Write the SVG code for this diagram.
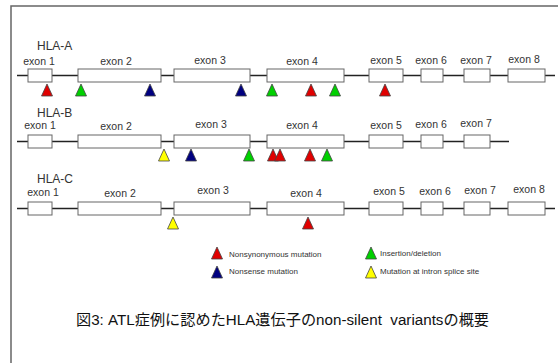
<svg xmlns="http://www.w3.org/2000/svg" xmlns:xlink="http://www.w3.org/1999/xlink" width="558" height="363" viewBox="0 0 558 363">
<style>
.frame{fill:none;stroke:#666;stroke-width:1.5}
.bb{stroke:#222;stroke-width:1.6;fill:none}
.ex{fill:#fff;stroke:#666;stroke-width:1}
.lbl{font-family:"Liberation Sans",Arial,sans-serif;font-size:10.5px;fill:#333;text-anchor:middle}
.gene{font-family:"Liberation Sans",Arial,sans-serif;font-size:12px;fill:#333}
.leg{font-family:"Liberation Sans",Arial,sans-serif;font-size:8px;fill:#333}
.cap{font-family:"Liberation Sans","Noto Sans CJK JP",sans-serif;font-size:15.2px;fill:#111}
.r{fill:#e00000}.g{fill:#00d000}.n{fill:#000080}.y{fill:#ffff00}
</style>
<defs>
<path id="tri" d="M0,0 L5.5,12 L-5.5,12 Z" stroke="#444" stroke-width="0.8"/>
</defs>
<rect width="558" height="363" fill="#fff"/>
<path class="frame" d="M11,363 V6 H558"/>
<g id="connectors">
<line class="bb" x1="17" y1="75.5" x2="555" y2="75.5"/>
<line class="bb" x1="17" y1="141.5" x2="509" y2="141.5"/>
<line class="bb" x1="17" y1="208.5" x2="555" y2="208.5"/>
</g>
<g id="hla-a">
<text class="gene" x="37" y="50">HLA-A</text>
<rect class="ex" x="28" y="69" width="24" height="13"/>
<rect class="ex" x="78" y="69" width="83" height="13"/>
<rect class="ex" x="174" y="69" width="76" height="13"/>
<rect class="ex" x="267" y="69" width="77" height="13"/>
<rect class="ex" x="369" y="69" width="34" height="13"/>
<rect class="ex" x="421" y="69" width="22" height="13"/>
<rect class="ex" x="464" y="69" width="26" height="13"/>
<rect class="ex" x="508" y="69" width="37" height="13"/>
<text class="lbl" x="39" y="65">exon 1</text>
<text class="lbl" x="116" y="65">exon 2</text>
<text class="lbl" x="210" y="64">exon 3</text>
<text class="lbl" x="302" y="65">exon 4</text>
<text class="lbl" x="386" y="64">exon 5</text>
<text class="lbl" x="431" y="64">exon 6</text>
<text class="lbl" x="476" y="64">exon 7</text>
<text class="lbl" x="524" y="63">exon 8</text>
<use href="#tri" class="r" x="47" y="84"/>
<use href="#tri" class="g" x="81" y="84"/>
<use href="#tri" class="n" x="150" y="84"/>
<use href="#tri" class="n" x="241" y="84"/>
<use href="#tri" class="g" x="272" y="84"/>
<use href="#tri" class="r" x="311" y="84"/>
<use href="#tri" class="g" x="335" y="84"/>
<use href="#tri" class="r" x="385" y="84"/>
</g>
<g id="hla-b">
<text class="gene" x="37" y="117">HLA-B</text>
<rect class="ex" x="28" y="135" width="24" height="13"/>
<rect class="ex" x="78" y="135" width="83" height="13"/>
<rect class="ex" x="174" y="135" width="76" height="13"/>
<rect class="ex" x="267" y="135" width="77" height="13"/>
<rect class="ex" x="369" y="135" width="34" height="13"/>
<rect class="ex" x="421" y="135" width="22" height="13"/>
<rect class="ex" x="464" y="135" width="26" height="13"/>
<text class="lbl" x="40" y="129">exon 1</text>
<text class="lbl" x="116" y="130">exon 2</text>
<text class="lbl" x="211" y="128">exon 3</text>
<text class="lbl" x="302" y="129">exon 4</text>
<text class="lbl" x="386" y="129">exon 5</text>
<text class="lbl" x="431" y="128">exon 6</text>
<text class="lbl" x="476" y="127">exon 7</text>
<use href="#tri" class="y" x="164" y="149"/>
<use href="#tri" class="n" x="191" y="149"/>
<use href="#tri" class="g" x="249" y="149"/>
<use href="#tri" class="r" x="273" y="149"/>
<use href="#tri" class="r" x="280" y="149"/>
<use href="#tri" class="r" x="310" y="149"/>
<use href="#tri" class="g" x="327" y="149"/>
</g>
<g id="hla-c">
<text class="gene" x="37" y="183">HLA-C</text>
<rect class="ex" x="28" y="202" width="24" height="13"/>
<rect class="ex" x="78" y="202" width="83" height="13"/>
<rect class="ex" x="174" y="202" width="76" height="13"/>
<rect class="ex" x="267" y="202" width="77" height="13"/>
<rect class="ex" x="369" y="202" width="34" height="13"/>
<rect class="ex" x="421" y="202" width="22" height="13"/>
<rect class="ex" x="464" y="202" width="26" height="13"/>
<rect class="ex" x="508" y="202" width="37" height="13"/>
<text class="lbl" x="43" y="196">exon 1</text>
<text class="lbl" x="120" y="197">exon 2</text>
<text class="lbl" x="213" y="194">exon 3</text>
<text class="lbl" x="306" y="197">exon 4</text>
<text class="lbl" x="389" y="195">exon 5</text>
<text class="lbl" x="435" y="195">exon 6</text>
<text class="lbl" x="480" y="194">exon 7</text>
<text class="lbl" x="529" y="193">exon 8</text>
<use href="#tri" class="y" x="173" y="217"/>
<use href="#tri" class="r" x="308" y="217"/>
</g>
<g id="legend">
<use href="#tri" class="r" x="217" y="247"/>
<text class="leg" x="229" y="257">Nonsynonymous mutation</text>
<use href="#tri" class="n" x="217" y="266"/>
<text class="leg" x="229" y="274">Nonsense mutation</text>
<use href="#tri" class="g" x="371" y="247"/>
<text class="leg" x="380" y="256">Insertion/deletion</text>
<use href="#tri" class="y" x="371" y="266"/>
<text class="leg" x="380" y="274">Mutation at intron splice site</text>
</g>
<text class="cap" x="76" y="325" textLength="413" lengthAdjust="spacingAndGlyphs">図3: ATL症例に認めたHLA遺伝子のnon-silent&#160; variantsの概要</text>
</svg>
